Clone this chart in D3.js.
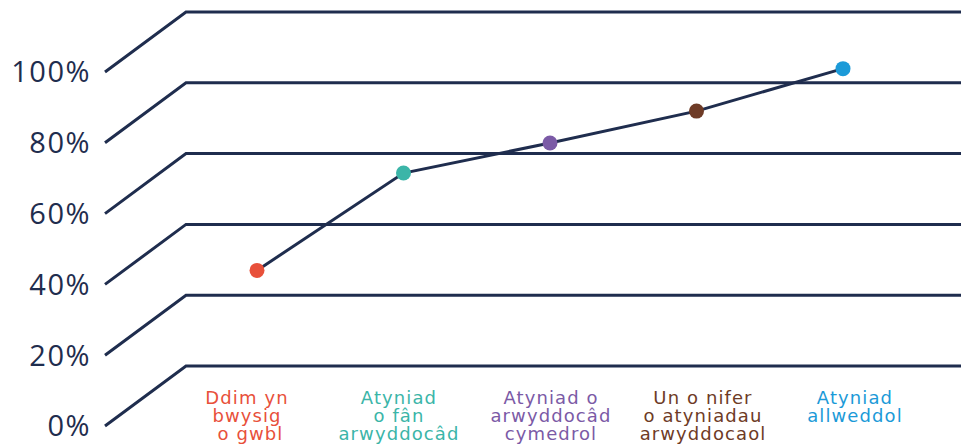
<!DOCTYPE html>
<html>
<head>
<meta charset="utf-8">
<script src="https://cdn.jsdelivr.net/npm/d3@7"></script>
<style>
  body { margin: 0; background: #fff; }
  svg { display: block; }
</style>
</head>
<body>
<svg id="svg" width="961" height="445"></svg>
<script>
// chart data
var categories = [
  ["Ddim yn", "bwysig", " o gwbl"],
  ["Atyniad", "o fân", "arwyddocâd"],
  ["Atyniad o", "arwyddocâd", "cymedrol"],
  ["Un o nifer", "o atyniadau", "arwyddocaol"],
  ["Atyniad", "allweddol"]
];
var values = [27, 54.5, 63, 72, 84];
var colors = ["#e8503a", "#3bb5a8", "#7b5aa6", "#6e3b26", "#1b9ad8"];
var ticks = [0, 20, 40, 60, 80, 100];

var navy = "#1f2d4e";
var svg = d3.select("#svg");
var width = 961;

var keys = categories.map((c, i) => i);
var xScale = d3.scalePoint().domain(keys).range([257, 843]);
var xLabel = d3.scalePoint().domain(keys).range([247, 855]);
var yScale = d3.scaleLinear().domain([0, 100]).range([366, 12]);

// slanted gridlines (front edge drops 60px, back edge at x=186)
var grid = svg.append("g");
ticks.forEach(t => {
  var y = yScale(t);
  grid.append("path")
    .attr("d", d3.line()([[105, y + 60], [186, y], [width, y]]))
    .attr("fill", "none")
    .attr("stroke", navy)
    .attr("stroke-width", 3);
  grid.append("text")
    .attr("x", 91)
    .attr("y", y + 60)
    .attr("dy", "0.36em")
    .attr("text-anchor", "end")
    .attr("fill", navy)
    .style("font-family", "'Open Sans', sans-serif")
    .style("font-size", "29px")
    .style("letter-spacing", "1.5px")
    .text(t + "%");
});

// line and dots
svg.append("path")
  .datum(values)
  .attr("d", d3.line().x((d, i) => xScale(i)).y(d => yScale(d)))
  .attr("fill", "none")
  .attr("stroke", navy)
  .attr("stroke-width", 3);

svg.selectAll("circle")
  .data(values)
  .join("circle")
  .attr("cx", (d, i) => xScale(i))
  .attr("cy", d => yScale(d))
  .attr("r", 7.5)
  .attr("fill", (d, i) => colors[i]);

// category labels
categories.forEach((lines, i) => {
  var t = svg.append("text")
    .attr("text-anchor", "middle")
    .attr("fill", colors[i])
    .style("font-family", "'DejaVu Sans', sans-serif")
    .style("font-size", "18px")
    .style("letter-spacing", "1.1px")
    .style("white-space", "pre");
  lines.forEach((l, j) => {
    t.append("tspan")
      .attr("x", xLabel(i))
      .attr("y", 404 + j * 18)
      .text(l);
  });
});
</script>
</body>
</html>
